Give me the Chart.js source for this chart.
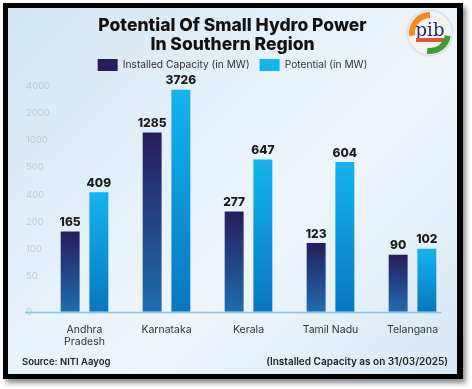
<!DOCTYPE html>
<html>
<head>
<meta charset="utf-8">
<script src="https://cdn.jsdelivr.net/npm/chart.js@4.4.1/dist/chart.umd.min.js"></script>
<style>
  html, body { margin: 0; padding: 0; background: #fff; }
  #frame {
    position: absolute; left: 3px; top: 3px;
    width: 449px; height: 366px;
    border: 5px solid #000; border-right-width: 6px;
    box-shadow: 3px 4px 5px rgba(0,0,0,0.45);
    background: linear-gradient(135deg, #d1e6f4 0%, #e6f1f9 40%, #eff5fa 60%, #e0edf8 85%, #d5e8f5 100%);
  }
  #wrap { position: relative; width: 449px; height: 366px; }
</style>
</head>
<body>
<div id="frame"><div id="wrap"><canvas id="hydro"></canvas></div></div>
<script>
var states = [['Andhra', 'Pradesh'], 'Karnataka', 'Kerala', 'Tamil Nadu', 'Telangana'];
var installed = [165, 1285, 277, 123, 90];
var potential = [409, 3726, 647, 604, 102];
var yTicks = [0, 50, 100, 200, 400, 500, 1000, 2000, 4000];

var FONT = 'Inter, "Open Sans", sans-serif';

// axis in the picture is not linear: each tick gets its own step
class SteppedScale extends Chart.LinearScale {
  static id = 'stepped';
  determineDataLimits() {
    var s = this.options.steps;
    this.min = s[0];
    this.max = s[s.length - 1];
  }
  buildTicks() {
    var t = this.options.steps.map(function (v) { return { value: v }; });
    this.start = this.min; this.end = this.max;
    return t;
  }
  _weights() {
    var w = this.options.weights, total = this.options.headroom || 0;
    for (var i = 0; i < w.length; i++) total += w[i];
    return { w: w, total: total };
  }
  getPixelForValue(v) {
    var s = this.options.steps, ws = this._weights(), acc = 0;
    if (v <= s[0]) return this.getPixelForDecimal(0);
    for (var i = 1; i < s.length; i++) {
      if (v <= s[i] || i == s.length - 1) {
        acc += ws.w[i - 1] * (v - s[i - 1]) / (s[i] - s[i - 1]);
        return this.getPixelForDecimal(acc / ws.total);
      }
      acc += ws.w[i - 1];
    }
  }
  getValueForPixel(p) {
    var s = this.options.steps, ws = this._weights();
    var u = this.getDecimalForPixel(p) * ws.total, acc = 0;
    for (var i = 1; i < s.length; i++) {
      if (u <= acc + ws.w[i - 1] || i == s.length - 1) {
        return s[i - 1] + (u - acc) / ws.w[i - 1] * (s[i] - s[i - 1]);
      }
      acc += ws.w[i - 1];
    }
  }
}
Chart.register(SteppedScale);

function barFill(dark) {
  return function (ctx) {
    var chart = ctx.chart;
    if (!chart.chartArea || !ctx.parsed) return dark ? '#232a6c' : '#0ea7e4';
    var y = chart.scales.y;
    var top = y.getPixelForValue(ctx.parsed.y), base = y.getBasePixel();
    var g = chart.ctx.createLinearGradient(0, top, 0, base);
    if (dark) { g.addColorStop(0, '#251d5c'); g.addColorStop(1, '#1f6db0'); }
    else { g.addColorStop(0, '#13b4ef'); g.addColorStop(1, '#0877c0'); }
    return g;
  };
}

var valueLabels = {
  id: 'valueLabels',
  afterDatasetsDraw: function (chart) {
    var c = chart.ctx;
    c.save();
    c.font = '800 12px ' + FONT;
    c.fillStyle = '#1b1b1b';
    c.textAlign = 'center';
    c.textBaseline = 'bottom';
    chart.data.datasets.forEach(function (ds, i) {
      chart.getDatasetMeta(i).data.forEach(function (bar, j) {
        c.fillText(ds.data[j], bar.x, bar.y - 3);
      });
    });
    c.restore();
  }
};

var extras = {
  id: 'extras',
  beforeDatasetsDraw: function (chart) {
    var c = chart.ctx, a = chart.chartArea;
    var py = Math.round(chart.scales.y.getBasePixel()) + 0.5;
    c.save();
    c.strokeStyle = '#86c8e8';
    c.lineWidth = 1.5;
    c.beginPath();
    c.moveTo(17, py);
    c.lineTo(a.right - 12, py);
    c.stroke();
    c.restore();
  },
  afterDraw: function (chart) {
    var c = chart.ctx;
    c.save();
    // footer
    c.fillStyle = '#222';
    c.textBaseline = 'middle';
    c.font = '600 9.5px ' + FONT;
    c.textAlign = 'left';
    c.fillText('Source: NITI Aayog', 14, 354);
    c.font = '600 10px ' + FONT;
    c.textAlign = 'right';
    c.fillText('(Installed Capacity as on 31/03/2025)', 440, 354);

    // pib badge
    var cx = 422, cy = 25, r = 22;
    c.shadowColor = 'rgba(0,0,0,0.25)';
    c.shadowBlur = 3;
    c.fillStyle = '#f3f3f3';
    c.beginPath(); c.arc(cx, cy, r, 0, Math.PI * 2); c.fill();
    c.shadowBlur = 0; c.shadowColor = 'transparent';
    c.lineWidth = 6;
    c.strokeStyle = '#f58a1f';
    c.beginPath(); c.arc(cx, cy, r - 4, Math.PI * 0.95, Math.PI * 1.5); c.stroke();
    c.strokeStyle = '#3a9e3a';
    c.beginPath(); c.arc(cx, cy, r - 4, Math.PI * 0.05, Math.PI * 0.55); c.stroke();
    c.fillStyle = '#1c2f6e';
    c.font = '18px "DejaVu Serif", serif';
    c.textAlign = 'center';
    c.textBaseline = 'alphabetic';
    c.fillText('pib', cx, cy + 3);
    c.fillStyle = '#e0553a';
    c.fillRect(cx - 14, cy + 5, 28, 4);
    c.restore();
  }
};

new Chart(document.getElementById('hydro'), {
  type: 'bar',
  data: {
    labels: states,
    datasets: [
      { label: 'Installed Capacity (in MW)', data: installed, backgroundColor: barFill(true),
        categoryPercentage: 0.7, barPercentage: 0.66 },
      { label: 'Potential (in MW)', data: potential, backgroundColor: barFill(false),
        categoryPercentage: 0.7, barPercentage: 0.66 }
    ]
  },
  options: {
    responsive: true,
    maintainAspectRatio: false,
    animation: false,
    layout: { padding: { left: 3.5, right: 3.5, top: 0, bottom: 22 } },
    plugins: {
      title: {
        display: true,
        text: ['Potential Of Small Hydro Power', 'In Southern Region'],
        color: '#111',
        font: { family: FONT, size: 17.5, weight: '800', lineHeight: 1.086 },
        padding: { top: 8, bottom: -5 }
      },
      legend: {
        labels: {
          boxWidth: 20, boxHeight: 12, padding: 10,
          color: '#333',
          font: { family: FONT, size: 10.2 }
        }
      },
      tooltip: { enabled: false }
    },
    scales: {
      x: {
        grid: { display: false },
        border: { display: false },
        ticks: { color: '#333', padding: 4, font: { family: FONT, size: 10.5, lineHeight: 1.15 } }
      },
      y: {
        type: 'stepped',
        steps: yTicks,
        weights: [1.3, 1, 1, 1, 1, 1, 1, 1],
        headroom: 0.18,
        afterFit: function (s) { s.width = 32; },
        grid: { display: false, drawTicks: false },
        border: { display: false },
        ticks: {
          autoSkip: false,
          mirror: true,
          crossAlign: 'near',
          padding: -17.5,
          color: '#c3c9cf',
          font: { family: FONT, size: 9.5 },
          callback: function (v) { return String(v); }
        }
      }
    }
  },
  plugins: [valueLabels, extras]
});
</script>
</body>
</html>
